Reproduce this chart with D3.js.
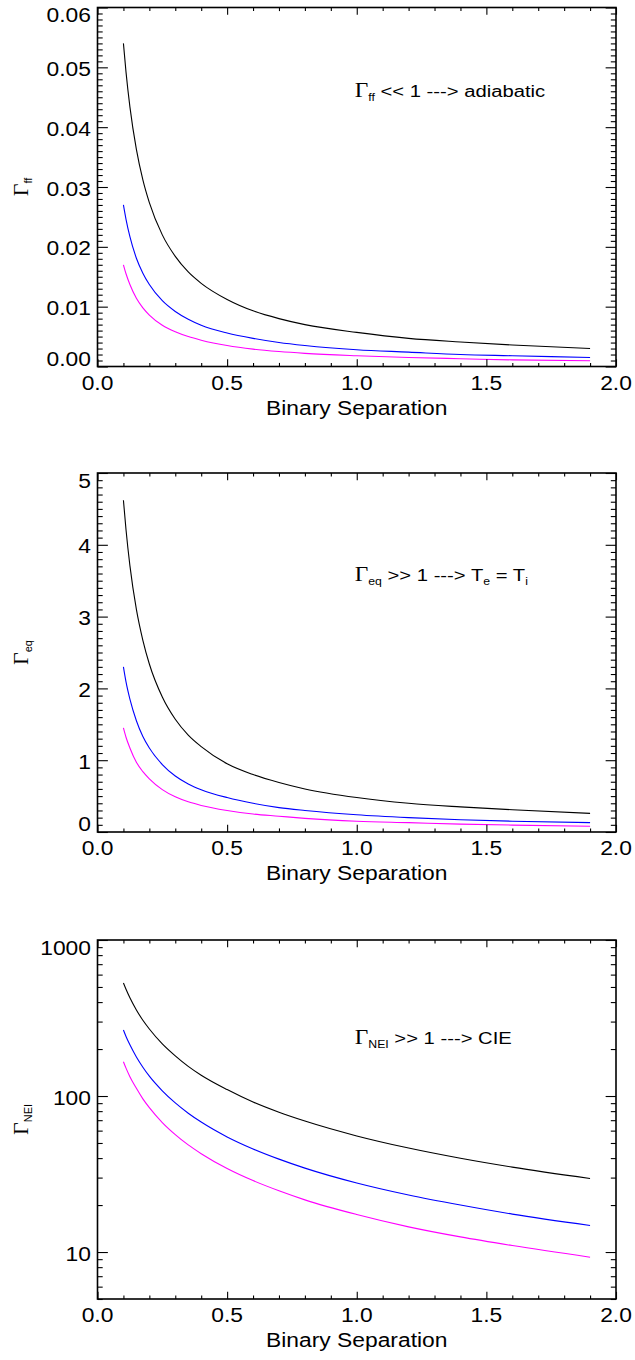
<!DOCTYPE html>
<html>
<head>
<meta charset="utf-8">
<title>Gamma vs binary separation</title>
<style>
	body{ margin:0; background:#fff; }
	text{ font-family:"Liberation Sans", Arial, sans-serif; fill:#000; }
	.greek{ font-family:"Liberation Serif", "DejaVu Serif", serif; }
</style>
</head>
<body>
<div id="chart"></div>
<script src="https://d3js.org/d3.v7.min.js"></script>
<script type="text/javascript">

// binary separation, sampled where the curves were read
var sep = [0.1, 0.11, 0.125, 0.15, 0.175, 0.2, 0.25, 0.3, 0.35, 0.4, 0.5, 0.6, 0.7, 0.8, 1.0, 1.2, 1.4, 1.6, 1.9];

// Gamma_ff
var ffBlack   = [0.0540, 0.0492, 0.0434, 0.0363, 0.0312, 0.0274, 0.0220, 0.0184, 0.0158, 0.0139, 0.0112, 0.0093, 0.0080, 0.0070, 0.0057, 0.0047, 0.0041, 0.0036, 0.0030];
var ffBlue    = [0.0270, 0.0246, 0.0217, 0.0181, 0.0156, 0.0137, 0.0110, 0.0092, 0.0079, 0.0069, 0.0056, 0.0047, 0.0040, 0.0035, 0.0028, 0.0024, 0.0020, 0.0018, 0.0015];
var ffMagenta = [0.0170, 0.0155, 0.0137, 0.0114, 0.0098, 0.0086, 0.0069, 0.0058, 0.0050, 0.0044, 0.0035, 0.0029, 0.0025, 0.0022, 0.0018, 0.0015, 0.0013, 0.0011, 0.00095];

// Gamma_eq
var eqBlack   = [4.62, 4.21, 3.71, 3.10, 2.67, 2.34, 1.88, 1.57, 1.35, 1.19, 0.95, 0.80, 0.69, 0.60, 0.48, 0.40, 0.35, 0.31, 0.26];
var eqBlue    = [2.30, 2.09, 1.85, 1.55, 1.33, 1.17, 0.94, 0.78, 0.67, 0.59, 0.48, 0.40, 0.34, 0.30, 0.24, 0.20, 0.17, 0.15, 0.13];
var eqMagenta = [1.45, 1.32, 1.17, 0.97, 0.84, 0.74, 0.59, 0.49, 0.42, 0.37, 0.30, 0.25, 0.22, 0.19, 0.15, 0.13, 0.11, 0.096, 0.081];

// Gamma_NEI
var neiBlack   = [530, 483, 426, 356, 306, 269, 216, 181, 155, 136, 110, 91.5, 78.7, 69.1, 55.5, 46.4, 39.9, 35.0, 29.6];
var neiBlue    = [265, 241, 213, 178, 153, 134, 108, 90.3, 77.6, 68.1, 54.7, 45.8, 39.4, 34.5, 27.7, 23.2, 20.0, 17.5, 14.8];
var neiMagenta = [166, 151, 133, 112, 95.9, 84.2, 67.6, 56.6, 48.6, 42.7, 34.3, 28.7, 24.7, 21.6, 17.4, 14.5, 12.5, 11.0, 9.26];

// axis ticks
var xMajor = [0, 0.5, 1.0, 1.5, 2.0];
var xMinor = d3.range(0, 20).map(function(i){ return i/10; }).filter(function(v){ return Math.round(v*10) % 5 != 0; });
var xLabels = ['0.0', '0.5', '1.0', '1.5', '2.0'];

var ffMajor = [0, 0.01, 0.02, 0.03, 0.04, 0.05, 0.06];
var ffLabels = ['0.00', '0.01', '0.02', '0.03', '0.04', '0.05', '0.06'];
var eqMajor = [0, 1, 2, 3, 4, 5];
var eqLabels = ['0', '1', '2', '3', '4', '5'];
var neiMajor = [10, 100, 1000];
var neiLabels = ['10', '100', '1000'];
var neiMinor = [5, 6, 7, 8, 9, 20, 30, 40, 50, 60, 70, 80, 90, 200, 300, 400, 500, 600, 700, 800, 900];

var colors = ['#000000', '#0000ff', '#ff00ff'];
var stretch = 1.17;

var svg = d3.select('#chart').append('svg').attr('width', 635).attr('height', 1360);

var left = 97.5, right = 616, plotH = 359;
var x = d3.scaleLinear().domain([0, 2]).range([left, right]);

function stext(g, px, py, str, size, anchor){
	return g.append('text')
		.attr('transform', 'translate(' + px + ',' + py + ') scale(' + stretch + ',1)')
		.attr('text-anchor', anchor)
		.style('font-size', size + 'px')
		.text(str);
}

function ticks(g, axis, tx, ty){
	g.append('g').attr('transform', 'translate(' + tx + ',' + ty + ')').call(axis)
		.call(function(s){ s.select('.domain').remove(); })
		.selectAll('line').attr('stroke', '#000').attr('stroke-width', 1.1);
}

function panel(p){
	var top = p.top, bottom = top + plotH;
	var y = (p.log ? d3.scaleLog() : d3.scaleLinear()).domain(p.domain).range([bottom, top]);
	var g = svg.append('g');

	var line = d3.line().x(function(d){ return x(d[0]); }).y(function(d){ return y(d[1]); }).curve(d3.curveMonotoneX);
	p.series.forEach(function(vals, i){
		g.append('path')
			.datum(sep.map(function(s, j){ return [s, vals[j]]; }))
			.attr('fill', 'none').attr('stroke', colors[i]).attr('stroke-width', 1.1)
			.attr('d', line);
	});

	var xl = 0.02*plotH, yl = 0.02*(right-left);
	ticks(g, d3.axisBottom(x).tickValues(xMajor).tickSize(-xl).tickFormat(''), 0, bottom);
	ticks(g, d3.axisBottom(x).tickValues(xMinor).tickSize(-xl/2).tickFormat(''), 0, bottom);
	ticks(g, d3.axisTop(x).tickValues(xMajor).tickSize(-xl).tickFormat(''), 0, top);
	ticks(g, d3.axisTop(x).tickValues(xMinor).tickSize(-xl/2).tickFormat(''), 0, top);
	ticks(g, d3.axisLeft(y).tickValues(p.major).tickSize(-yl).tickFormat(''), left, 0);
	ticks(g, d3.axisLeft(y).tickValues(p.minor).tickSize(-yl/2).tickFormat(''), left, 0);
	ticks(g, d3.axisRight(y).tickValues(p.major).tickSize(-yl).tickFormat(''), right, 0);
	ticks(g, d3.axisRight(y).tickValues(p.minor).tickSize(-yl/2).tickFormat(''), right, 0);

	g.append('rect').attr('x', left).attr('y', top).attr('width', right-left).attr('height', plotH)
		.attr('fill', 'none').attr('stroke', '#000').attr('stroke-width', 1.6);

	xMajor.forEach(function(v, i){
		stext(g, x(v), bottom + 23, xLabels[i], 19.5, 'middle');
	});
	stext(g, (left+right)/2, bottom + 48, 'Binary Separation', 19.5, 'middle');

	p.major.forEach(function(v, i){
		var cy = Math.max(top + 7.7, Math.min(bottom - 7.7, y(v) + 1.5));
		stext(g, 91, cy + 7, p.labels[i], 19.5, 'end');
	});

	// y title: Gamma with subscript, rotated
	var t = g.append('text')
		.attr('transform', 'translate(28,' + ((top+bottom)/2) + ') rotate(-90)')
		.attr('text-anchor', 'middle');
	t.append('tspan').attr('class', 'greek').style('font-size', '22px').text('\u0393');
	t.append('tspan').style('font-size', '11px').attr('dy', 4).text(p.sub);

	// annotation
	var n = g.append('text')
		.attr('transform', 'translate(' + (x(1.0) - 2) + ',' + y(p.noteY) + ') scale(' + stretch + ',1)')
		.style('font-size', '17.3px');
	p.note.forEach(function(part){
		var ts = n.append('tspan').text(part[0]);
		if(part[1] == 'g') ts.attr('class', 'greek').style('font-size', '20px');
		if(part[1] == 's') ts.style('font-size', '10.5px').attr('dy', 4);
		if(part[1] == 'u') ts.attr('dy', -4);
	});
}

panel({top: 7.5, domain: [0, 0.06], major: ffMajor, labels: ffLabels,
	minor: d3.range(0, 61).map(function(i){ return i/1000; }).filter(function(v, i){ return i % 10 != 0; }),
	series: [ffBlack, ffBlue, ffMagenta], sub: 'ff', noteY: 0.045,
	note: [['\u0393', 'g'], ['ff', 's'], [' << 1 ---> adiabatic', 'u']]});

panel({top: 473, domain: [0, 5], major: eqMajor, labels: eqLabels,
	minor: d3.range(0, 51).map(function(i){ return i/10; }).filter(function(v, i){ return i % 10 != 0; }),
	series: [eqBlack, eqBlue, eqMagenta], sub: 'eq', noteY: 3.5,
	note: [['\u0393', 'g'], ['eq', 's'], [' >> 1 ---> T', 'u'], ['e', 's'], [' = T', 'u'], ['i', 's']]});

panel({top: 940, log: true, domain: [5, 1000], major: neiMajor, labels: neiLabels, minor: neiMinor,
	series: [neiBlack, neiBlue, neiMagenta], sub: 'NEI', noteY: 215,
	note: [['\u0393', 'g'], ['NEI', 's'], [' >> 1 ---> CIE', 'u']]});

</script>
</body>
</html>
